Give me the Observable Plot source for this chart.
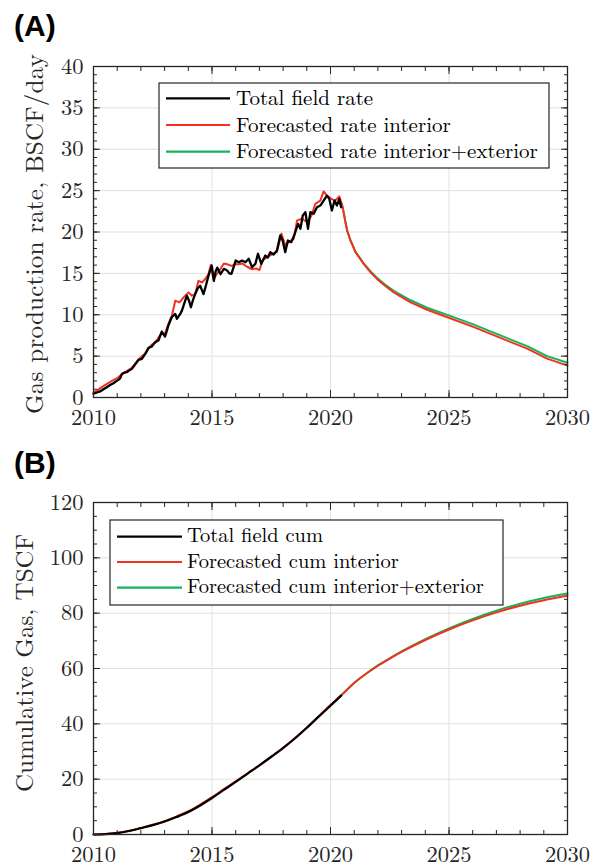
<!DOCTYPE html>
<html>
<head>
<meta charset="utf-8">
<script src="https://cdn.jsdelivr.net/npm/d3@7"></script>
<script src="https://cdn.jsdelivr.net/npm/@observablehq/plot@0.6"></script>
<style>
  body { margin: 0; background: #fff; }
  #page { position: relative; width: 605px; height: 867px; overflow: hidden; background: #fff; }
  #page > svg { position: absolute; left: 0; }
  #page svg text { font-family: "Latin Modern Roman", "Liberation Serif", serif; }
  #page svg text.tag { font-family: "Liberation Sans", Arial, sans-serif; }
</style>
</head>
<body>
<div id="page"></div>
<script>
// ---- Panel A: gas production rate (BSCF/day) ----
const totalYears = [2010.00, 2010.15, 2010.28, 2010.42, 2010.56, 2010.70, 2010.84, 2010.95, 2011.05, 2011.12,
  2011.20, 2011.30, 2011.40, 2011.50, 2011.62, 2011.76, 2011.90, 2012.04, 2012.18, 2012.32,
  2012.46, 2012.60, 2012.74, 2012.88, 2013.02, 2013.10, 2013.16, 2013.30, 2013.45, 2013.52,
  2013.66, 2013.73, 2013.94, 2014.03, 2014.11, 2014.20, 2014.29, 2014.40, 2014.50, 2014.57,
  2014.64, 2014.75, 2014.85, 2014.99, 2015.08, 2015.15, 2015.22, 2015.36, 2015.50, 2015.64,
  2015.73, 2015.82, 2016.00, 2016.13, 2016.27, 2016.41, 2016.55, 2016.69, 2016.83, 2016.94,
  2017.08, 2017.25, 2017.35, 2017.46, 2017.60, 2017.74, 2017.88, 2017.98, 2018.09, 2018.20,
  2018.35, 2018.49, 2018.63, 2018.73, 2018.83, 2018.94, 2019.05, 2019.15, 2019.29, 2019.43,
  2019.57, 2019.71, 2019.85, 2019.95, 2020.06, 2020.17, 2020.27, 2020.37, 2020.45];
const totalRate = [0.45, 0.60, 0.73, 1.00, 1.25, 1.50, 1.73, 1.95, 2.13, 2.30,
  2.86, 3.00, 3.06, 3.25, 3.46, 4.00, 4.55, 4.67, 5.28, 6.00,
  6.16, 6.69, 6.89, 7.97, 7.37, 8.10, 8.70, 9.70, 10.10, 9.50,
  10.10, 10.50, 12.30, 11.70, 10.90, 11.80, 12.50, 13.20, 13.50, 13.00,
  12.50, 13.60, 14.70, 15.95, 14.10, 15.20, 15.70, 14.90, 15.55, 15.35,
  15.00, 14.95, 16.55, 16.35, 16.55, 16.35, 16.76, 15.75, 16.15, 17.37,
  16.15, 17.16, 16.90, 17.56, 17.28, 17.76, 19.58, 18.97, 17.56, 18.97,
  18.77, 19.78, 20.99, 20.39, 22.00, 22.40, 20.39, 22.40, 22.20, 23.00,
  23.20, 23.80, 24.40, 24.00, 22.60, 23.80, 23.20, 24.00, 23.00];

const interiorHistYears = [2010.00, 2010.20, 2010.40, 2010.60, 2010.80, 2011.00, 2011.20, 2011.40, 2011.60, 2011.76,
  2011.90, 2012.04, 2012.20, 2012.32, 2012.46, 2012.60, 2012.74, 2012.88, 2013.00, 2013.16,
  2013.31, 2013.45, 2013.63, 2013.80, 2014.01, 2014.15, 2014.29, 2014.43, 2014.57, 2014.71,
  2014.85, 2014.95, 2015.06, 2015.20, 2015.36, 2015.50, 2015.64, 2015.82, 2016.00, 2016.13,
  2016.27, 2016.48, 2016.69, 2016.86, 2017.00, 2017.14, 2017.32, 2017.53, 2017.74, 2017.93,
  2018.09, 2018.26, 2018.45, 2018.59, 2018.80, 2019.01, 2019.20, 2019.36, 2019.57, 2019.71,
  2019.85, 2020.03, 2020.20, 2020.37, 2020.48];
const interiorHistRate = [0.60, 0.95, 1.35, 1.70, 2.05, 2.35, 2.80, 3.20, 3.55, 4.10,
  4.60, 5.00, 5.30, 5.90, 6.40, 6.60, 7.20, 7.80, 7.60, 8.90,
  9.90, 11.70, 11.50, 12.10, 12.70, 12.30, 12.50, 14.10, 13.90, 14.30,
  14.90, 16.00, 14.30, 14.90, 15.55, 16.20, 16.10, 15.90, 16.10, 16.10,
  16.20, 15.80, 15.50, 15.60, 15.40, 16.60, 16.96, 17.30, 17.60, 19.80,
  18.40, 18.80, 19.20, 21.40, 21.60, 21.20, 22.00, 23.40, 23.80, 24.90,
  24.40, 24.00, 23.80, 24.30, 23.40];

const forecastYears = [2020.48, 2020.56, 2020.63, 2020.70, 2020.84, 2020.95, 2021.05, 2021.20, 2021.40, 2021.70,
  2021.97, 2022.30, 2022.67, 2023.38, 2024.08, 2025.02, 2026.05, 2027.17, 2028.30, 2029.14, 2030.00];
const interiorForecastRate = [23.4, 22.3, 21.2, 20.2, 19.0, 18.3, 17.6, 17.0, 16.15, 15.1,
  14.3, 13.5, 12.7, 11.5, 10.6, 9.6, 8.5, 7.2, 5.9, 4.7, 3.85];
const exteriorForecastRate = [23.4, 22.3, 21.2, 20.2, 19.0, 18.3, 17.6, 17.0, 16.2, 15.2,
  14.45, 13.65, 12.9, 11.75, 10.85, 9.9, 8.8, 7.5, 6.2, 5.0, 4.2];

// ---- Panel B: cumulative gas (TSCF) ----
const cumHistYears = [2010, 2010.5, 2011, 2011.5, 2012, 2012.5, 2013, 2013.5, 2014, 2014.5, 2015,
  2015.5, 2016, 2016.5, 2017, 2017.5, 2018, 2018.5, 2019, 2019.5, 2020, 2020.45];
const totalCum = [0, 0.15, 0.5, 1.25, 2.3, 3.4, 4.7, 6.3, 8.1, 10.5, 13.2,
  16.1, 19.0, 22.0, 25.0, 28.1, 31.3, 34.8, 38.6, 42.6, 46.6, 50.2];
const interiorHistCum = [0, 0.2, 0.6, 1.35, 2.4, 3.5, 4.8, 6.5, 8.4, 10.8, 13.5,
  16.4, 19.2, 22.1, 25.0, 28.0, 31.2, 34.7, 38.6, 42.7, 46.8, 50.3];
const cumForecastYears = [2020.45, 2021, 2021.5, 2022, 2022.5, 2023, 2024, 2025, 2026, 2027, 2028, 2029, 2030];
const interiorForecastCum = [50.3, 54.8, 58.1, 61.0, 63.6, 66.0, 70.3, 74.1, 77.4, 80.3, 82.7, 84.7, 86.3];
const exteriorForecastCum = [50.3, 54.8, 58.1, 61.1, 63.7, 66.2, 70.6, 74.5, 77.9, 80.9, 83.4, 85.5, 87.1];

// ---- labels and ticks ----
const rateLegend = ["Total field rate", "Forecasted rate interior", "Forecasted rate interior+exterior"];
const cumLegend = ["Total field cum", "Forecasted cum interior", "Forecasted cum interior+exterior"];
const seriesColors = ["#000000", "#f2311f", "#12b55a"];
const xMajorTicks = [2010, 2015, 2020, 2025, 2030];
const xMinorTicks = d3.range(2010, 2031, 1);
const rateMajorTicks = d3.range(0, 41, 5);
const rateMinorTicks = d3.range(0, 41, 1);
const cumMajorTicks = d3.range(0, 121, 20);
const cumMinorTicks = d3.range(0, 121, 5);

const ink = "#262626";
const serif = '"Latin Modern Roman", "Liberation Serif", serif';
const pts = (xs, ys) => xs.map((x, i) => ({x, y: ys[i]}));

function panel({height, marginTop, marginBottom, yDomain, yMajor, yMinor, lines, curve, xPad}) {
  const tickAxes = (which, major, minor) => {
    const ax = which === "x" ? Plot.axisX : Plot.axisY;
    const anchors = which === "x" ? ["bottom", "top"] : ["left", "right"];
    return anchors.flatMap(a => [
      ax(minor, {anchor: a, tickSize: -4, fill: "none", stroke: ink, label: null}),
      ax(major, {anchor: a, tickSize: -7, fill: "none", stroke: ink, label: null})
    ]);
  };
  return Plot.plot({
    width: 605, height,
    marginLeft: 93, marginRight: 38, marginTop, marginBottom,
    style: {fontFamily: serif, fontSize: "22.5px", color: ink, background: "white", overflow: "visible"},
    x: {domain: [2010, 2030]},
    y: {domain: yDomain},
    marks: [
      Plot.gridX(xMajorTicks, {stroke: "#e0e0e0", strokeOpacity: 1, strokeWidth: 1}),
      Plot.gridY(yMajor, {stroke: "#e0e0e0", strokeOpacity: 1, strokeWidth: 1}),
      ...lines.map(l => Plot.line(l.data, {x: "x", y: "y", stroke: l.color, strokeWidth: l.width, curve})),
      ...tickAxes("x", xMajorTicks, xMinorTicks),
      ...tickAxes("y", yMajor, yMinor),
      Plot.axisX(xMajorTicks, {anchor: "bottom", tickSize: 0, tickPadding: xPad, tickFormat: d => String(d), label: null, fill: ink}),
      Plot.axisY(yMajor, {anchor: "left", tickSize: 0, tickPadding: 10, tickFormat: d => String(d), label: null, fill: ink}),
      Plot.frame({stroke: ink, strokeWidth: 1.3})
    ]
  });
}

const page = document.getElementById("page");

const chartA = panel({
  height: 440, marginTop: 66, marginBottom: 43,
  yDomain: [0, 40], yMajor: rateMajorTicks, yMinor: rateMinorTicks, curve: "linear", xPad: 12,
  lines: [
    {data: pts(forecastYears, exteriorForecastRate), color: seriesColors[2], width: 2},
    {data: pts(interiorHistYears.concat(forecastYears.slice(1)), interiorHistRate.concat(interiorForecastRate.slice(1))), color: seriesColors[1], width: 2},
    {data: pts(totalYears, totalRate), color: seriesColors[0], width: 2.3}
  ]
});
chartA.style.top = "0px";
page.appendChild(chartA);

const chartB = panel({
  height: 427, marginTop: 62, marginBottom: 33,
  yDomain: [0, 120], yMajor: cumMajorTicks, yMinor: cumMinorTicks, curve: "catmull-rom", xPad: 12,
  lines: [
    {data: pts(cumForecastYears, exteriorForecastCum), color: seriesColors[2], width: 2},
    {data: pts(cumHistYears.concat(cumForecastYears.slice(1)), interiorHistCum.concat(interiorForecastCum.slice(1))), color: seriesColors[1], width: 2},
    {data: pts(cumHistYears, totalCum), color: seriesColors[0], width: 2.2}
  ]
});
chartB.style.top = "440px";
page.appendChild(chartB);

// ---- panel letters, axis titles and legends ----
const overlay = d3.create("svg")
  .attr("width", 605).attr("height", 867)
  .style("top", "0px")
  .style("pointer-events", "none");

overlay.selectAll("text.tag")
  .data([{t: "(A)", y: 36}, {t: "(B)", y: 473}])
  .join("text")
  .attr("class", "tag")
  .attr("x", 14).attr("y", d => d.y)
  .attr("font-weight", "bold").attr("font-size", 30).attr("fill", "#000")
  .text(d => d.t);

overlay.selectAll("text.ytitle")
  .data([
    {t: "Gas production rate, BSCF/day", x: 43, y: 234, len: 360},
    {t: "Cumulative Gas, TSCF", x: 33, y: 663, len: 258}
  ])
  .join("text")
  .attr("class", "ytitle")
  .attr("transform", d => `translate(${d.x},${d.y}) rotate(-90)`)
  .attr("text-anchor", "middle")
  .attr("font-size", 25).attr("fill", ink)
  .attr("textLength", d => d.len).attr("lengthAdjust", "spacing")
  .text(d => d.t);

function legend(g, {x, y, w, h, rows, sx1, sx2, tx, base, size, labels}) {
  g.append("rect").attr("x", x).attr("y", y).attr("width", w).attr("height", h)
    .attr("fill", "white").attr("stroke", ink).attr("stroke-width", 1.2);
  labels.forEach((label, i) => {
    g.append("line").attr("x1", sx1).attr("x2", sx2).attr("y1", rows[i]).attr("y2", rows[i])
      .attr("stroke", seriesColors[i]).attr("stroke-width", 2.2);
    g.append("text").attr("x", tx).attr("y", rows[i] + base)
      .attr("font-size", size).attr("fill", "#000")
      .text(label);
  });
}
legend(overlay.append("g"), {x: 159, y: 83, w: 390, h: 85, rows: [98.3, 125, 151.7], sx1: 166, sx2: 230, tx: 236, base: 6.5, size: 21, labels: rateLegend});
legend(overlay.append("g"), {x: 110, y: 520, w: 393, h: 85, rows: [536.7, 562, 587.7], sx1: 117, sx2: 182, tx: 187, base: 5.5, size: 20.5, labels: cumLegend});

page.appendChild(overlay.node());
</script>
</body>
</html>
